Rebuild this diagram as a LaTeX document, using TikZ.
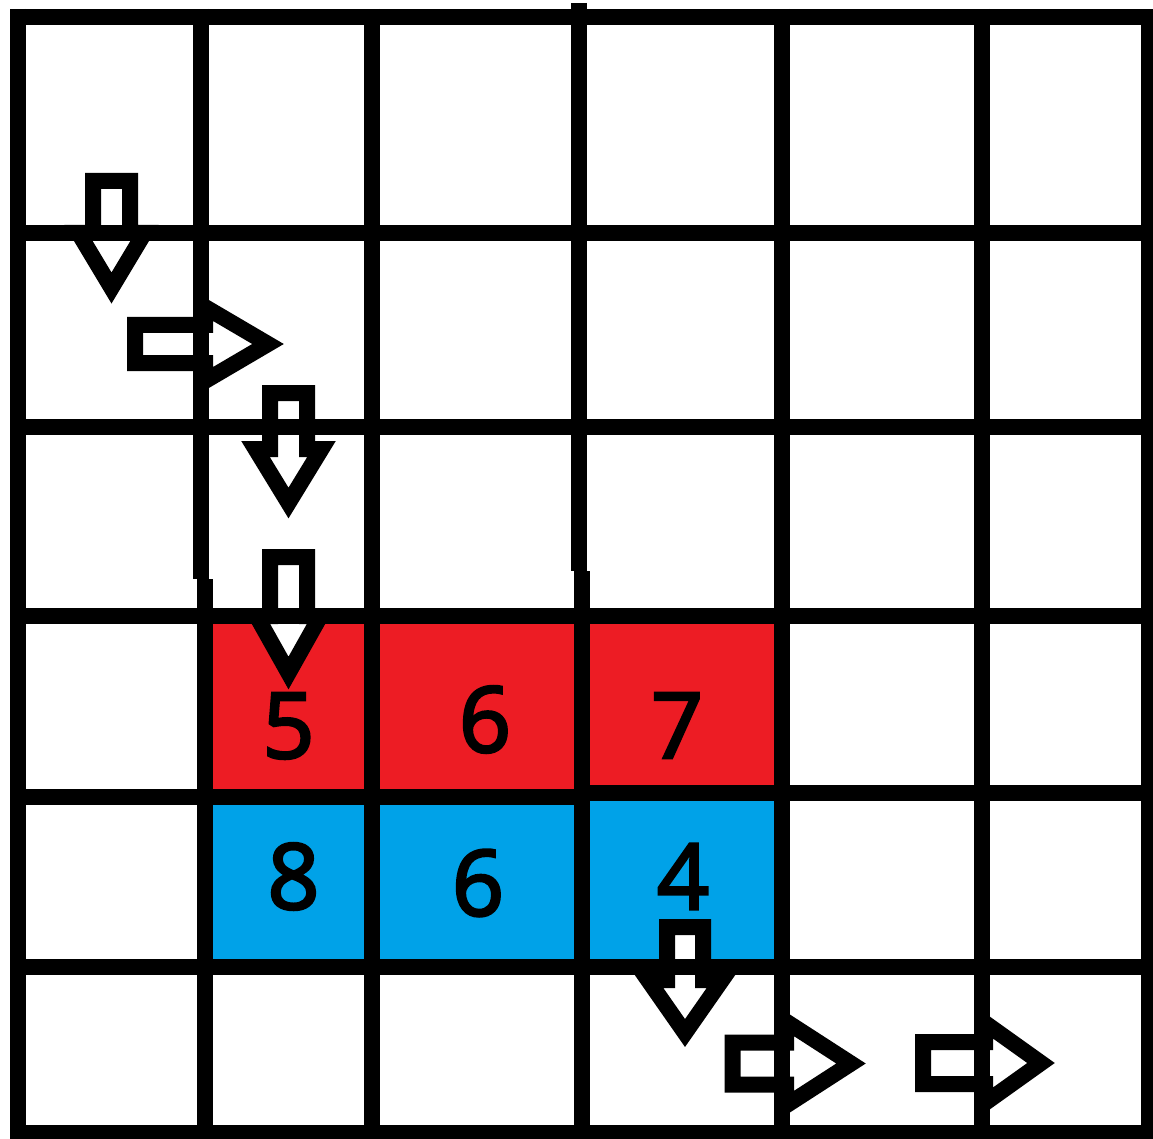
\documentclass[tikz,border=0pt]{standalone}
\usepackage{fontspec}
\newfontfamily\cellfont{Open Sans}[FakeBold=3]
\definecolor{PaintRed}{HTML}{ED1C24}
\definecolor{PaintBlue}{HTML}{00A2E8}
\tikzset{
  gridline/.style={line width=16pt, line cap=butt, draw=black},
  blockarrow/.style={line width=16pt, draw=black, fill=white, line join=miter},
  cellnum/.style={font=\cellfont\fontsize{91}{91}\selectfont, inner sep=0pt, text=black},
  pics/arrowdown/.style args={#1/#2/#3/#4}{code={
    \draw[blockarrow] (-#1,0) -- (#1,0) -- (#1,#2) -- (#3,#2) -- (0,#2+#4)
      -- (-#3,#2) -- (-#1,#2) -- cycle;
  }},
  pics/arrowright/.style args={#1/#2/#3/#4}{code={
    \draw[blockarrow] (0,-#1) -- (#2,-#1) -- (#2,-#3) -- (#2+#4,0)
      -- (#2,#3) -- (#2,#1) -- (0,#1) -- cycle;
  }},
}
\begin{document}
\begin{tikzpicture}[x=1pt,y=-1pt]
    \useasboundingbox (0,0) rectangle (1153,1139);
    \fill[PaintRed] (201,616) rectangle (782,796);
    \fill[PaintBlue] (201,796) rectangle (782,966);
    \pic (a1) at (111.5,181) {arrowdown=18.5/52/33/55};
    \pic (a2) at (135,344) {arrowright=19/70/37/63};
    \pic (a3) at (288.5,393) {arrowdown=18.5/56/33/54};
    \pic (a4) at (288.5,557) {arrowdown=18.5/59/32/57};
    \pic (a5) at (685,927) {arrowdown=18/53/37/53};
    \pic (a6) at (732.5,1063.5) {arrowright=21/53.5/42/65};
    \pic (a7) at (923,1063) {arrowright=21/62/40/56};
    \foreach \y in {17,233,426.5,616,966.5,1133}
      \draw[gridline] (10,\y) -- (1157,\y);
    \draw[gridline] (10,796.5) -- (578,796.5);
    \draw[gridline] (578,793) -- (1157,793);
    \foreach \x in {18,372,782,982,1149}
      \draw[gridline] (\x,9) -- (\x,1141);
    \draw[gridline] (201,9) -- (201,579);
    \draw[gridline] (205,579) -- (205,1141);
    \draw[gridline] (578.5,3) -- (578.5,571);
    \draw[gridline] (582,571) -- (582,1141);
    \node[cellnum] (red5) at (288.5,726) {5};
    \node[cellnum] (red6) at (485,719.5) {6};
    \node[cellnum] (red7) at (677,725.5) {7};
    \node[cellnum] (blue8) at (293.5,876.5) {8};
    \node[cellnum] (blue6) at (478,883) {6};
    \node[cellnum] (blue4) at (683,876.5) {4};
  \end{tikzpicture}
\end{document}
